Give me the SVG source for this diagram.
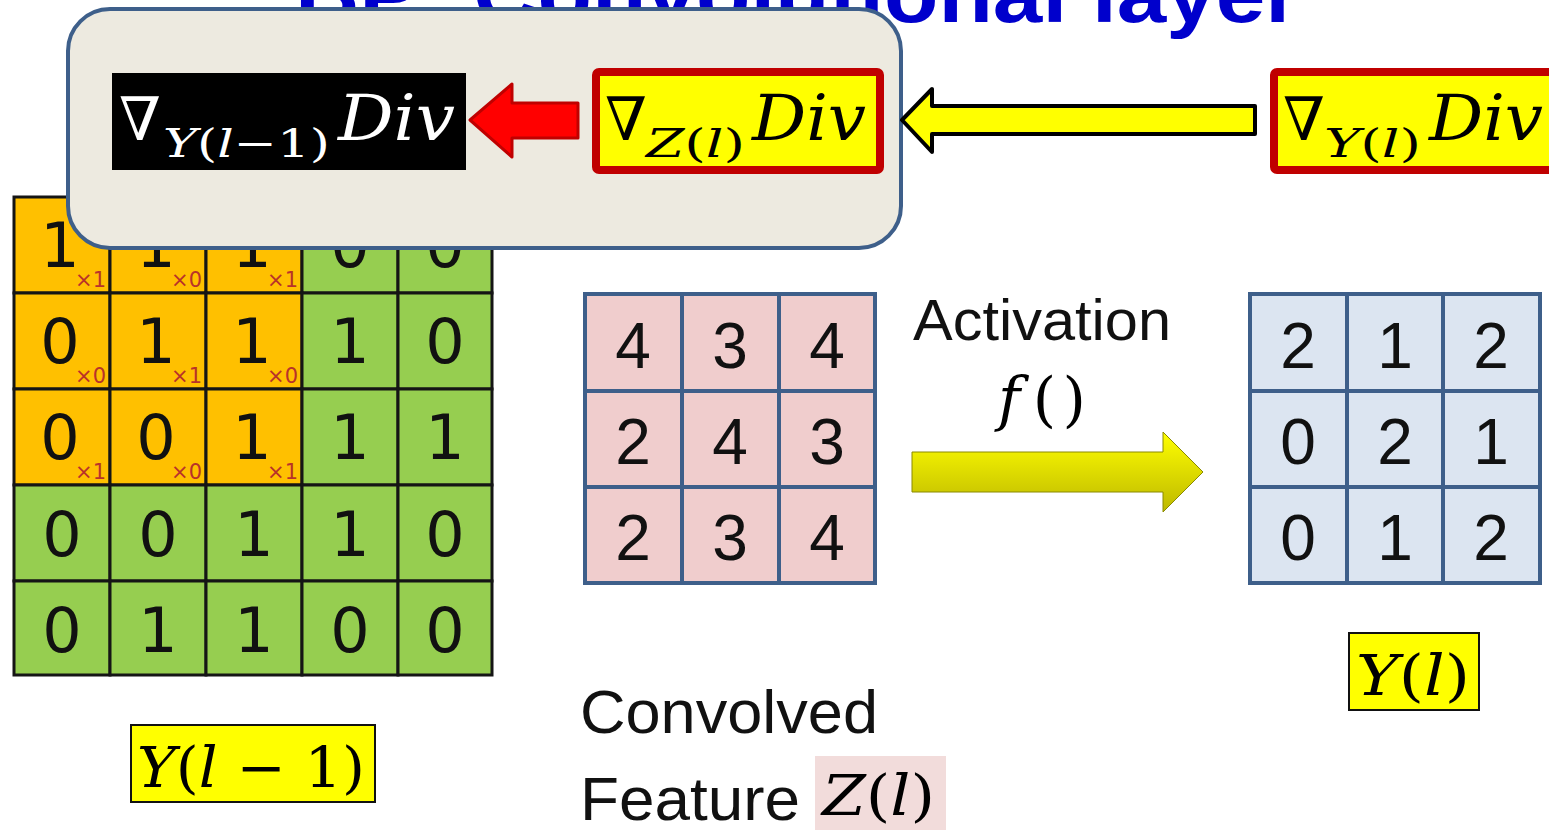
<svg xmlns="http://www.w3.org/2000/svg" width="1549" height="830" viewBox="0 0 1549 830">
<defs>
<style>
.title{font-family:"Liberation Sans",Arial,sans-serif;font-weight:bold;fill:#0000CC;font-size:80px}
.gcell{fill:#96CE50;stroke:#151515;stroke-width:3}
.ocell{fill:#FFC000;stroke:#151515;stroke-width:3}
.gd{font-family:"DejaVu Sans",sans-serif;font-size:62px;fill:#111;text-anchor:middle}
.sub{font-family:"DejaVu Sans",sans-serif;font-size:21px;fill:#B8322A;text-anchor:end}
.pcell{fill:#F0CDCD;stroke:#3E5F8A;stroke-width:4}
.bcell{fill:#DCE5F1;stroke:#3E5F8A;stroke-width:4}
.dg{font-family:"Liberation Sans",Arial,sans-serif;font-size:64px;fill:#111;text-anchor:middle}
.lbl{font-family:"Liberation Sans",Arial,sans-serif;fill:#111}
.m{font-family:"DejaVu Serif","Liberation Serif",serif;font-style:italic}
.mu{font-family:"DejaVu Serif","Liberation Serif",serif;font-style:normal}
.ybox{fill:#FFFF00;stroke:#C00000;stroke-width:8}
</style>
<linearGradient id="actg" x1="0" y1="0" x2="0" y2="1">
<stop offset="0" stop-color="#FFFF00"/>
<stop offset="1" stop-color="#BDB800"/>
</linearGradient>
</defs>
<rect width="1549" height="830" fill="#FFFFFF"/>
<text class="title" x="295" y="22" textLength="1005" lengthAdjust="spacingAndGlyphs">BP: Convolutional layer</text>

<g id="input-grid">
<rect class="ocell" x="14" y="197" width="96" height="96"/>
<rect class="ocell" x="110" y="197" width="96" height="96"/>
<rect class="ocell" x="206" y="197" width="96" height="96"/>
<rect class="gcell" x="302" y="197" width="96" height="96"/>
<rect class="gcell" x="398" y="197" width="94" height="96"/>
<rect class="ocell" x="14" y="293" width="96" height="96"/>
<rect class="ocell" x="110" y="293" width="96" height="96"/>
<rect class="ocell" x="206" y="293" width="96" height="96"/>
<rect class="gcell" x="302" y="293" width="96" height="96"/>
<rect class="gcell" x="398" y="293" width="94" height="96"/>
<rect class="ocell" x="14" y="389" width="96" height="96"/>
<rect class="ocell" x="110" y="389" width="96" height="96"/>
<rect class="ocell" x="206" y="389" width="96" height="96"/>
<rect class="gcell" x="302" y="389" width="96" height="96"/>
<rect class="gcell" x="398" y="389" width="94" height="96"/>
<rect class="gcell" x="14" y="485" width="96" height="96"/>
<rect class="gcell" x="110" y="485" width="96" height="96"/>
<rect class="gcell" x="206" y="485" width="96" height="96"/>
<rect class="gcell" x="302" y="485" width="96" height="96"/>
<rect class="gcell" x="398" y="485" width="94" height="96"/>
<rect class="gcell" x="14" y="581" width="96" height="94"/>
<rect class="gcell" x="110" y="581" width="96" height="94"/>
<rect class="gcell" x="206" y="581" width="96" height="94"/>
<rect class="gcell" x="302" y="581" width="96" height="94"/>
<rect class="gcell" x="398" y="581" width="94" height="94"/>
<text class="gd" x="60" y="267">1</text><text class="gd" x="156" y="267">1</text><text class="gd" x="252" y="267">1</text><text class="gd" x="350" y="267">0</text><text class="gd" x="445" y="267">0</text>
<text class="gd" x="60" y="363">0</text><text class="gd" x="156" y="363">1</text><text class="gd" x="252" y="363">1</text><text class="gd" x="350" y="363">1</text><text class="gd" x="445" y="363">0</text>
<text class="gd" x="60" y="459">0</text><text class="gd" x="156" y="459">0</text><text class="gd" x="252" y="459">1</text><text class="gd" x="350" y="459">1</text><text class="gd" x="445" y="459">1</text>
<text class="gd" x="62" y="556">0</text><text class="gd" x="158" y="556">0</text><text class="gd" x="254" y="556">1</text><text class="gd" x="350" y="556">1</text><text class="gd" x="445" y="556">0</text>
<text class="gd" x="62" y="652">0</text><text class="gd" x="158" y="652">1</text><text class="gd" x="254" y="652">1</text><text class="gd" x="350" y="652">0</text><text class="gd" x="445" y="652">0</text>
<text class="sub" x="106" y="287">×1</text><text class="sub" x="202" y="287">×0</text><text class="sub" x="298" y="287">×1</text>
<text class="sub" x="106" y="383">×0</text><text class="sub" x="202" y="383">×1</text><text class="sub" x="298" y="383">×0</text>
<text class="sub" x="106" y="479">×1</text><text class="sub" x="202" y="479">×0</text><text class="sub" x="298" y="479">×1</text>
</g>

<g id="grad-box">
<rect x="68" y="9" width="833" height="239" rx="42" ry="42" fill="#EDEAE0" stroke="#3E5F8A" stroke-width="4"/>
</g>

<g id="grad-yl1" fill="#FFFFFF">
<rect x="112" y="73" width="354" height="97" fill="#000000"/>
<text class="m" x="119" y="140" font-size="60">∇</text>
<text x="163" y="157" font-size="40" textLength="167" lengthAdjust="spacingAndGlyphs"><tspan class="m">Y</tspan><tspan class="mu">(</tspan><tspan class="m">l</tspan><tspan class="mu">−1)</tspan></text>
<text class="m" x="338" y="140" font-size="64" textLength="117" lengthAdjust="spacingAndGlyphs">Div</text>
</g>

<g id="grad-zl" fill="#000000">
<rect class="ybox" x="596" y="72" width="284" height="98" rx="3"/>
<text class="m" x="605" y="140" font-size="60">∇</text>
<text x="646" y="157" font-size="40" textLength="99" lengthAdjust="spacingAndGlyphs"><tspan class="m">Z</tspan><tspan class="mu">(</tspan><tspan class="m">l</tspan><tspan class="mu">)</tspan></text>
<text class="m" x="752" y="140" font-size="64" textLength="114" lengthAdjust="spacingAndGlyphs">Div</text>
</g>

<g id="grad-yl" fill="#000000">
<rect class="ybox" x="1274" y="72" width="290" height="98" rx="3"/>
<text class="m" x="1283" y="140" font-size="60">∇</text>
<text x="1324" y="157" font-size="40" textLength="97" lengthAdjust="spacingAndGlyphs"><tspan class="m">Y</tspan><tspan class="mu">(</tspan><tspan class="m">l</tspan><tspan class="mu">)</tspan></text>
<text class="m" x="1429" y="140" font-size="64" textLength="114" lengthAdjust="spacingAndGlyphs">Div</text>
</g>

<g id="z-grid">
<rect class="pcell" x="585" y="294" width="97" height="97"/>
<rect class="pcell" x="682" y="294" width="97" height="97"/>
<rect class="pcell" x="779" y="294" width="96" height="97"/>
<rect class="pcell" x="585" y="391" width="97" height="96"/>
<rect class="pcell" x="682" y="391" width="97" height="96"/>
<rect class="pcell" x="779" y="391" width="96" height="96"/>
<rect class="pcell" x="585" y="487" width="97" height="96"/>
<rect class="pcell" x="682" y="487" width="97" height="96"/>
<rect class="pcell" x="779" y="487" width="96" height="96"/>
<text class="dg" x="633" y="368">4</text><text class="dg" x="730" y="368">3</text><text class="dg" x="827" y="368">4</text>
<text class="dg" x="633" y="464">2</text><text class="dg" x="730" y="464">4</text><text class="dg" x="827" y="464">3</text>
<text class="dg" x="633" y="560">2</text><text class="dg" x="730" y="560">3</text><text class="dg" x="827" y="560">4</text>
</g>

<g id="y-grid">
<rect class="bcell" x="1250" y="294" width="97" height="97"/>
<rect class="bcell" x="1347" y="294" width="96" height="97"/>
<rect class="bcell" x="1443" y="294" width="97" height="97"/>
<rect class="bcell" x="1250" y="391" width="97" height="96"/>
<rect class="bcell" x="1347" y="391" width="96" height="96"/>
<rect class="bcell" x="1443" y="391" width="97" height="96"/>
<rect class="bcell" x="1250" y="487" width="97" height="96"/>
<rect class="bcell" x="1347" y="487" width="96" height="96"/>
<rect class="bcell" x="1443" y="487" width="97" height="96"/>
<text class="dg" x="1298" y="368">2</text><text class="dg" x="1395" y="368">1</text><text class="dg" x="1491" y="368">2</text>
<text class="dg" x="1298" y="464">0</text><text class="dg" x="1395" y="464">2</text><text class="dg" x="1491" y="464">1</text>
<text class="dg" x="1298" y="560">0</text><text class="dg" x="1395" y="560">1</text><text class="dg" x="1491" y="560">2</text>
</g>

<g id="activation-label">
<text class="lbl" x="913" y="340" font-size="57" textLength="258" lengthAdjust="spacingAndGlyphs">Activation</text>
<text x="998" y="420" font-size="60" textLength="88" lengthAdjust="spacing"><tspan class="m">f</tspan><tspan class="mu" dx="6">()</tspan></text>
</g>

<g id="convolved-label">
<text class="lbl" x="580" y="733" font-size="61" textLength="298" lengthAdjust="spacingAndGlyphs">Convolved</text>
<text class="lbl" x="580" y="820" font-size="61" textLength="220" lengthAdjust="spacingAndGlyphs">Feature</text>
<rect x="815" y="756" width="131" height="74" fill="#F2DCDB"/>
<text x="822" y="815" font-size="56" textLength="113" lengthAdjust="spacingAndGlyphs"><tspan class="m">Z</tspan><tspan class="mu">(</tspan><tspan class="m">l</tspan><tspan class="mu">)</tspan></text>
</g>

<g id="yl1-label">
<rect x="131" y="725" width="244" height="77" fill="#FFFF00" stroke="#111" stroke-width="2"/>
<text x="137" y="787" font-size="56" textLength="228" lengthAdjust="spacingAndGlyphs"><tspan class="m">Y</tspan><tspan class="mu">(</tspan><tspan class="m">l</tspan><tspan class="mu"> − 1)</tspan></text>
</g>

<g id="yl-label">
<rect x="1349" y="633" width="130" height="77" fill="#FFFF00" stroke="#111" stroke-width="2"/>
<text x="1356" y="695" font-size="56" textLength="114" lengthAdjust="spacingAndGlyphs"><tspan class="m">Y</tspan><tspan class="mu">(</tspan><tspan class="m">l</tspan><tspan class="mu">)</tspan></text>
</g>

<g id="connectors">
<polygon points="470,120 512,84 512,103 578,103 578,138 512,138 512,157" fill="#FF0000" stroke="#C00000" stroke-width="3" stroke-linejoin="round"/>
<polygon points="902,120 932,89 932,106 1255,106 1255,134 932,134 932,152" fill="#FFFF00" stroke="#000000" stroke-width="4" stroke-linejoin="round"/>
<polygon points="912,452 1163,452 1163,432 1203,472 1163,512 1163,492 912,492" fill="url(#actg)" stroke="#8A8A00" stroke-width="1"/>
</g>
</svg>
